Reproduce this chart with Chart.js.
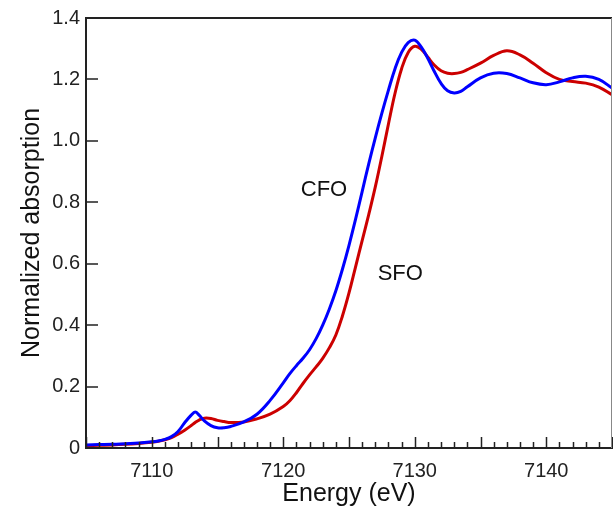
<!DOCTYPE html>
<html>
<head>
<meta charset="utf-8">
<script src="https://cdn.jsdelivr.net/npm/chart.js@4"></script>
<style>
  body { margin: 0; background: #fff; }
  #wrap { width: 613px; height: 512px; }
</style>
</head>
<body>
<div id="wrap"><canvas id="xanes"></canvas></div>
<script>
// energies in eV, shared by both spectra
var energy = [7105, 7106, 7107, 7108, 7109, 7110, 7110.5, 7111, 7111.5, 7112, 7112.5, 7113, 7113.3, 7113.6,
    7114, 7114.5, 7115, 7115.5, 7116, 7117, 7118, 7119, 7120, 7120.5, 7121, 7121.5, 7122, 7122.5,
    7123, 7123.5, 7124, 7124.5, 7125, 7125.5, 7126, 7126.5, 7127, 7127.5, 7128, 7128.5, 7129, 7129.5,
    7130, 7130.5, 7131, 7131.5, 7132, 7132.5, 7133, 7133.5, 7134, 7135, 7136, 7137, 7138, 7139,
    7140, 7141, 7142, 7143, 7144, 7145];

var cfo = [0.010, 0.011, 0.012, 0.014, 0.016, 0.020, 0.023, 0.028, 0.037, 0.054, 0.082, 0.107, 0.117, 0.107,
    0.088, 0.073, 0.066, 0.066, 0.070, 0.085, 0.110, 0.155, 0.212, 0.242, 0.268, 0.292, 0.320, 0.356,
    0.400, 0.452, 0.512, 0.582, 0.660, 0.745, 0.835, 0.925, 1.010, 1.090, 1.165, 1.235, 1.288, 1.320,
    1.328, 1.305, 1.268, 1.225, 1.187, 1.163, 1.156, 1.161, 1.176, 1.205, 1.220, 1.219, 1.205, 1.189,
    1.183, 1.192, 1.205, 1.210, 1.200, 1.172];

var sfo = [0.008, 0.009, 0.010, 0.012, 0.015, 0.019, 0.022, 0.027, 0.034, 0.045, 0.058, 0.073, 0.083, 0.091,
    0.097, 0.096, 0.090, 0.086, 0.083, 0.085, 0.095, 0.110, 0.135, 0.154, 0.180, 0.210, 0.238, 0.264,
    0.292, 0.326, 0.368, 0.430, 0.505, 0.590, 0.675, 0.760, 0.850, 0.950, 1.055, 1.155, 1.235, 1.288,
    1.308, 1.298, 1.272, 1.246, 1.228, 1.220, 1.219, 1.223, 1.232, 1.253, 1.278, 1.293, 1.280, 1.253,
    1.222, 1.200, 1.193, 1.188, 1.175, 1.150];

var xTickLabels = [7110, 7120, 7130, 7140];
var yTickValues = [0, 0.2, 0.4, 0.6, 0.8, 1.0, 1.2, 1.4];

// curve labels placed in data coordinates
var curveLabels = [
    { text: 'CFO', x: 7123.1, y: 0.84 },
    { text: 'SFO', x: 7128.9, y: 0.567 }
];

var font = "'Liberation Sans', Arial, sans-serif";

function pairs(vals)
{
    return energy.map(function (e, i) { return { x: e, y: vals[i] }; });
}

// inward tick marks, top/right frame and the curve labels
var decorations =
{
    id: 'decorations',
    afterDatasetsDraw: function (chart)
    {
        var ctx = chart.ctx, a = chart.chartArea, x = chart.scales.x, y = chart.scales.y;
        ctx.save();

        ctx.strokeStyle = '#222';
        ctx.lineWidth = 1.5;
        ctx.beginPath();
        for (var e = 7105; e <= 7145; e++)
        {
            var px = Math.round(x.getPixelForValue(e)) + 0.5;
            var len = (e % 5 === 0) ? 11 : 6;
            ctx.moveTo(px, a.bottom);
            ctx.lineTo(px, a.bottom - len);
        }
        yTickValues.forEach(function (v)
        {
            var py = Math.round(y.getPixelForValue(v));
            ctx.moveTo(a.left, py);
            ctx.lineTo(a.left + 12, py);
        });
        ctx.stroke();

        // frame top
        ctx.lineWidth = 2;
        ctx.beginPath();
        ctx.moveTo(a.left, a.top);
        ctx.lineTo(a.right, a.top);
        ctx.stroke();

        // frame right
        ctx.strokeStyle = '#888';
        ctx.lineWidth = 1;
        ctx.beginPath();
        ctx.moveTo(a.right - 0.5, a.top);
        ctx.lineTo(a.right - 0.5, a.bottom);
        ctx.stroke();

        ctx.fillStyle = '#111';
        ctx.font = '22px ' + font;
        ctx.textAlign = 'center';
        ctx.textBaseline = 'middle';
        curveLabels.forEach(function (l)
        {
            ctx.fillText(l.text, x.getPixelForValue(l.x), y.getPixelForValue(l.y));
        });

        ctx.restore();
    }
};

new Chart(document.getElementById('xanes'),
    {
        type: 'line',
        data:
        {
            datasets: [
                {
                    label: 'CFO',
                    data: pairs(cfo),
                    borderColor: '#0000ff',
                    borderWidth: 3,
                    pointRadius: 0,
                    tension: 0.4
                },
                {
                    label: 'SFO',
                    data: pairs(sfo),
                    borderColor: '#cc0000',
                    borderWidth: 3,
                    pointRadius: 0,
                    tension: 0.4
                }
            ]
        },
        options:
        {
            responsive: true,
            maintainAspectRatio: false,
            animation: false,
            layout: { padding: { top: 18, right: 1, left: 0, bottom: 0 } },
            plugins:
            {
                legend: { display: false },
                tooltip: { enabled: false }
            },
            scales:
            {
                x:
                {
                    type: 'linear',
                    min: 7105,
                    max: 7145,
                    afterBuildTicks: function (axis)
                    {
                        axis.ticks = xTickLabels.map(function (v) { return { value: v }; });
                    },
                    afterFit: function (axis) { axis.height = 64; },
                    grid: { display: false, drawTicks: false },
                    border: { display: true, color: '#222', width: 2 },
                    ticks:
                    {
                        padding: 11,
                        color: '#222',
                        maxRotation: 0,
                        font: { family: font, size: 20 },
                        callback: function (v) { return String(v); }
                    },
                    title:
                    {
                        display: true,
                        text: 'Energy (eV)',
                        color: '#111',
                        padding: { top: 0, bottom: 3 },
                        font: { family: font, size: 25 }
                    }
                },
                y:
                {
                    min: 0,
                    max: 1.4,
                    afterBuildTicks: function (axis)
                    {
                        axis.ticks = yTickValues.map(function (v) { return { value: v }; });
                    },
                    afterFit: function (axis) { axis.width = 86; },
                    grid: { display: false, drawTicks: false },
                    border: { display: true, color: '#222', width: 2 },
                    ticks:
                    {
                        padding: 6,
                        color: '#222',
                        font: { family: font, size: 20 },
                        callback: function (v) { return v === 0 ? '0' : v.toFixed(1); }
                    },
                    title:
                    {
                        display: true,
                        text: 'Normalized absorption',
                        color: '#111',
                        padding: { top: 17, bottom: 0 },
                        font: { family: font, size: 25 }
                    }
                }
            }
        },
        plugins: [decorations]
    });
</script>
</body>
</html>
